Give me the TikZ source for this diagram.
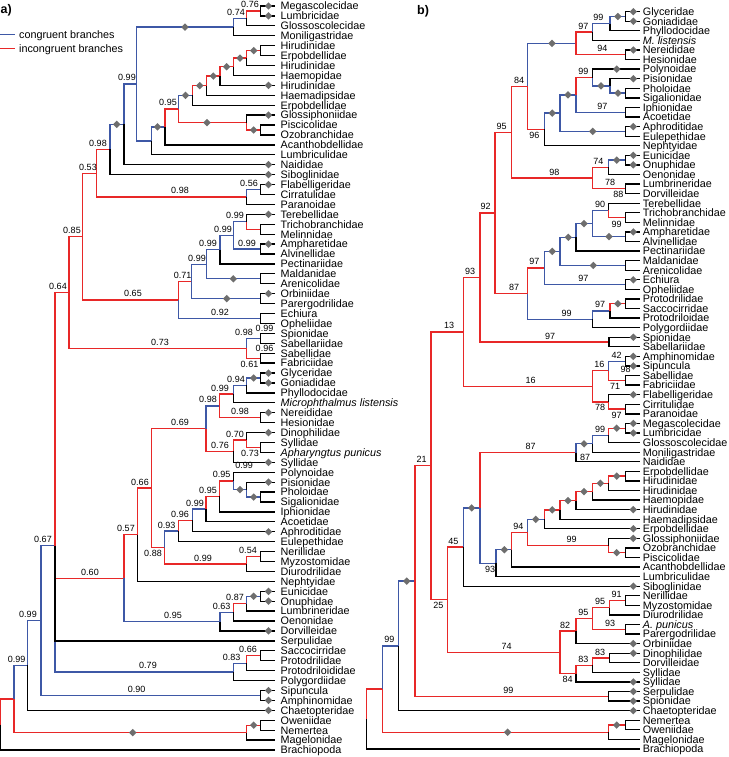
\documentclass[tikz,border=0pt]{standalone}
\usepackage{fontspec}
\setmainfont{Liberation Sans}
\usetikzlibrary{calc,shapes.geometric}
\definecolor{cblue}{RGB}{62,88,166}
\definecolor{cred}{RGB}{232,40,40}
\definecolor{cgray}{RGB}{110,110,110}
\newcounter{dmc}
\newcounter{lbc}
\newcommand\leaffont{\fontsize{10.8}{12}\selectfont}
\newcommand\Nd[4]{\path ($(#3)!.5!(#4)$) coordinate (tmp); \path (#2,0) coordinate (xx); \coordinate (#1) at (xx |- tmp);}
\newcommand\Ndq[6]{\path ($(#3)!.5!(#4)$) coordinate (tmpa); \path ($(#5)!.5!(#6)$) coordinate (tmpb); \path ($(tmpa)!.5!(tmpb)$) coordinate (tmp); \path (#2,0) coordinate (xx); \coordinate (#1) at (xx |- tmp);}
\newcommand\Br[3]{\draw[#1] (#2) |- (#3);}
\newcommand\Dm[2]{\stepcounter{dmc}\path (#1,0) coordinate (xx); \node[dmd] (dm\arabic{dmc}) at (xx |- #2) {};}
\newcommand\LabA[3]{\stepcounter{lbc}\path (#1,0) coordinate (xx); \coordinate (pp) at (xx |- #2); \node[lbl,anchor=base] (lb\arabic{lbc}) at ([yshift=3pt]pp) {#3};}
\newcommand\LabB[3]{\stepcounter{lbc}\path (#1,0) coordinate (xx); \coordinate (pp) at (xx |- #2); \node[lbl,anchor=base] (lb\arabic{lbc}) at ([yshift=-9pt]pp) {#3};}
\newcommand\LabF[3]{\stepcounter{lbc}\node[lbl] (lb\arabic{lbc}) at (#1,#2) {#3};}
\begin{document}
\begin{tikzpicture}[x=1pt,y=-1pt,line width=1.3pt,
  bl/.style={draw=cblue}, rd/.style={draw=cred}, bk/.style={draw=black},
  leaf/.style={anchor=base west,inner sep=0pt,font=\leaffont},
  lbl/.style={inner sep=0pt,font=\fontsize{9}{10}\selectfont},
  dmd/.style={diamond,fill=cgray,draw=none,inner sep=0pt,minimum width=8pt,minimum height=8pt}]
\useasboundingbox (0,0) rectangle (728,757);
% ---------- panel labels and legend
\node[anchor=west,inner sep=0pt,font=\bfseries\fontsize{12.5}{14}\selectfont] (pa) at (0,10.5) {a)};
\node[anchor=west,inner sep=0pt,font=\bfseries\fontsize{12.5}{14}\selectfont] (pb) at (416.5,11.5) {b)};
\coordinate (lg1a) at (0,34.3); \coordinate (lg1b) at (15,34.3);
\coordinate (lg2a) at (0,48.3); \coordinate (lg2b) at (15,48.3);
\draw[bl] (lg1a) -- (lg1b);
\draw[rd] (lg2a) -- (lg2b);
\node[leaf] (lgt1) at (18.5,38.15) {congruent branches};
\node[leaf] (lgt2) at (18.5,52.15) {incongruent branches};
% ---------- leaves tree a
\foreach \i/\t in {1/Megascolecidae,2/Lumbricidae,3/Glossoscolecidae,4/Moniligastridae,5/Hirudinidae,6/Erpobdellidae,7/Hirudinidae,8/Haemopidae,9/Hirudinidae,10/Haemadipsidae,11/Erpobdellidae,12/Glossiphoniidae,13/Piscicolidae,14/Ozobranchidae,15/Acanthobdellidae,16/Lumbriculidae,17/Naididae,18/Siboglinidae,19/Flabelligeridae,20/Cirratulidae,21/Paranoidae,22/Terebellidae,23/Trichobranchidae,24/Melinnidae,25/Ampharetidae,26/Alvinellidae,27/Pectinariidae,28/Maldanidae,29/Arenicolidae,30/Orbiniidae,31/Parergodrilidae,32/Echiura,33/Opheliidae,34/Spionidae,35/Sabellariidae,36/Sabellidae,37/Fabriciidae,38/Glyceridae,39/Goniadidae,40/Phyllodocidae,41/\textit{Microphthalmus listensis},42/Nereididae,43/Hesionidae,44/Dinophilidae,45/Syllidae,46/\textit{Apharyngtus punicus},47/Syllidae,48/Polynoidae,49/Pisionidae,50/Pholoidae,51/Sigalionidae,52/Iphionidae,53/Acoetidae,54/Aphroditidae,55/Eulepethidae,56/Nerillidae,57/Myzostomidae,58/Diurodrilidae,59/Nephtyidae,60/Eunicidae,61/Onuphidae,62/Lumbrineridae,63/Oenonidae,64/Dorvilleidae,65/Serpulidae,66/Saccocirridae,67/Protodrilidae,68/Protodriloididae,69/Polygordiidae,70/Sipuncula,71/Amphinomidae,72/Chaetopteridae,73/Oweniidae,74/Nemertea,75/Magelonidae,76/Brachiopoda}{
  \coordinate (a\i) at (275,{6+(\i-1)*9.92});
  \node[leaf] (ta\i) at (280,{6+(\i-1)*9.92+3.85}) {\t};
}
% ---------- leaves tree b
\foreach \i/\t in {1/Glyceridae,2/Goniadidae,3/Phyllodocidae,4/\textit{M. listensis},5/Nereididae,6/Hesionidae,7/Polynoidae,8/Pisionidae,9/Pholoidae,10/Sigalionidae,11/Iphionidae,12/Acoetidae,13/Aphroditidae,14/Eulepethidae,15/Nephtyidae,16/Eunicidae,17/Onuphidae,18/Oenonidae,19/Lumbrineridae,20/Dorvilleidae,21/Terebellidae,22/Trichobranchidae,23/Melinnidae,24/Ampharetidae,25/Alvinellidae,26/Pectinariidae,27/Maldanidae,28/Arenicolidae,29/Echiura,30/Opheliidae,31/Protodrilidae,32/Saccocirridae,33/Protodriloidae,34/Polygordiidae,35/Spionidae,36/Sabellariidae,37/Amphinomidae,38/Sipuncula,39/Sabellidae,40/Fabriciidae,41/Flabelligeridae,42/Cirritulidae,43/Paranoidae,44/Megascolecidae,45/Lumbricidae,46/Glossoscolecidae,47/Moniligastridae,48/Naididae,49/Erpobdellidae,50/Hirudinidae,51/Hirudinidae,52/Haemopidae,53/Hirudinidae,54/Haemadipsidae,55/Erpobdellidae,56/Glossiphoniidae,57/Ozobranchidae,58/Piscicolidae,59/Acanthobdellidae,60/Lumbriculidae,61/Siboglinidae,62/Nerillidae,63/Myzostomidae,64/Diurodrilidae,65/\textit{A. punicus},66/Parergodrilidae,67/Orbiniidae,68/Dinophilidae,69/Dorvilleidae,70/Syllidae,71/Syllidae,72/Serpulidae,73/Spionidae,74/Chaetopteridae,75/Nemertea,76/Oweniidae,77/Magelonidae,78/Brachiopoda}{
  \coordinate (b\i) at (640,{11.7+(\i-1)*9.575});
  \node[leaf] (tb\i) at (642.2,{11.7+(\i-1)*9.575+3.85}) {\t};
}
% ---------- internal nodes tree a
\Nd{xNmega}{260.7}{a1}{a2}
\Nd{xNglo}{246.7}{xNmega}{a3}
\Nd{xNmoni}{233.3}{xNglo}{a4}
\Nd{xL1}{260.7}{a5}{a6}
\Nd{xL2}{246.7}{xL1}{a7}
\Nd{xL3}{233.3}{xL2}{a8}
\Nd{xL4}{220}{xL3}{a9}
\Nd{xL5}{206.7}{xL4}{a10}
\Nd{xL6}{192.7}{xL5}{a11}
\Nd{xG1}{260.7}{a13}{a14}
\Nd{xG2}{246.7}{a12}{xG1}
\Nd{xH0}{178.3}{xL6}{xG2}
\Nd{xD}{165}{xH0}{a15}
\Nd{xC}{151.7}{xD}{a16}
\Nd{xB}{136.7}{xNmoni}{xC}
\Nd{xA}{124}{xB}{a17}
\Nd{xE}{110}{xA}{a18}
\Nd{xFc2}{260.7}{a19}{a20}
\Nd{xFc3}{246.7}{xFc2}{a21}
\Nd{xF}{96.7}{xE}{xFc3}
\Nd{xT1}{260.7}{a23}{a24}
\Nd{xT2}{246.7}{a22}{xT1}
\Nd{xT3}{260.7}{a25}{a26}
\Nd{xT4}{233.3}{xT2}{xT3}
\Nd{xT5}{220}{xT4}{a27}
\Nd{xT6}{260.7}{a28}{a29}
\Nd{xT7}{206.7}{xT5}{xT6}
\Nd{xT8}{260.7}{a30}{a31}
\Nd{xT9}{191.7}{xT7}{xT8}
\Nd{xT10}{260.7}{a32}{a33}
\Nd{xT11}{178.3}{xT9}{xT10}
\Nd{xG}{82.7}{xF}{xT11}
\Nd{xS1}{260.7}{a34}{a35}
\Nd{xS2}{260.7}{a36}{a37}
\Nd{xS3}{246.7}{xS1}{xS2}
\Nd{xH}{69}{xG}{xS3}
\Nd{xP1}{260.7}{a38}{a39}
\Nd{xP2}{246.7}{xP1}{a40}
\Nd{xP3}{233.3}{xP2}{a41}
\Nd{xP4}{260.7}{a42}{a43}
\Nd{xP5}{219.3}{xP3}{xP4}
\Nd{xQ1}{260.7}{a45}{a46}
\Nd{xQ2}{246.7}{a44}{xQ1}
\Nd{xQ3}{233.3}{xQ2}{a47}
\Nd{xP6}{206}{xP5}{xQ3}
\Nd{xR1}{260.7}{a50}{a51}
\Nd{xR2}{246.7}{a49}{xR1}
\Nd{xR3}{233.3}{a48}{xR2}
\Nd{xR4}{219.3}{xR3}{a52}
\Nd{xR5}{206}{xR4}{a53}
\Nd{xR6}{192.7}{xR5}{a54}
\Nd{xR7}{178.3}{xR6}{a55}
\Nd{xM1}{260.7}{a56}{a57}
\Nd{xM2}{246.7}{xM1}{a58}
\Nd{xR8}{164.3}{xR7}{xM2}
\Nd{xP7}{151.7}{xP6}{xR8}
\Nd{xP8}{137.7}{xP7}{a59}
\Nd{xE1}{260.7}{a60}{a61}
\Nd{xE2}{246.7}{xE1}{a62}
\Nd{xE3}{233.3}{xE2}{a63}
\Nd{xE4}{220}{xE3}{a64}
\Nd{xP9}{124}{xP8}{xE4}
\Nd{xV1}{260.7}{a66}{a67}
\Nd{xV2}{246.7}{xV1}{a68}
\Nd{xV3}{233.3}{xV2}{a69}
\Ndq{xI}{55}{xH}{xP9}{a65}{xV3}
\Nd{xSA}{260.7}{a70}{a71}
\Nd{xJ}{41}{xI}{xSA}
\Nd{xK}{27.7}{xJ}{a72}
\Nd{xO1}{260.7}{a73}{a74}
\Nd{xO2}{246.7}{xO1}{a75}
\Nd{xLr}{14}{xK}{xO2}
\Nd{xRa}{0.7}{xLr}{a76}
% ---------- branches tree a
\Br{rd}{xRa}{xLr} \Br{bk}{xRa}{a76}
\Br{bl}{xLr}{xK} \Br{rd}{xLr}{xO2}
\Br{rd}{xO2}{xO1} \Br{bk}{xO2}{a75}
\Br{bk}{xO1}{a73} \Br{bk}{xO1}{a74}
\Br{bl}{xK}{xJ} \Br{bk}{xK}{a72}
\Br{bl}{xJ}{xI} \Br{bl}{xJ}{xSA}
\Br{bk}{xSA}{a70} \Br{bk}{xSA}{a71}
\Br{rd}{xI}{xH} \Br{bl}{xI}{xV3} \Br{rd}{xI}{xP9} \Br{bk}{xI}{a65}
\Br{bl}{xV3}{xV2} \Br{bk}{xV3}{a69}
\Br{rd}{xV2}{xV1} \Br{bk}{xV2}{a68}
\Br{bk}{xV1}{a66} \Br{bk}{xV1}{a67}
\Br{rd}{xH}{xG} \Br{rd}{xH}{xS3}
\Br{bl}{xS3}{xS1} \Br{rd}{xS3}{xS2}
\Br{bk}{xS1}{a34} \Br{bk}{xS1}{a35} \Br{bk}{xS2}{a36} \Br{bk}{xS2}{a37}
\Br{rd}{xG}{xF} \Br{rd}{xG}{xT11}
\Br{rd}{xT11}{xT9} \Br{bl}{xT11}{xT10}
\Br{bk}{xT10}{a32} \Br{bk}{xT10}{a33}
\Br{bl}{xT9}{xT7} \Br{bl}{xT9}{xT8}
\Br{bk}{xT8}{a30} \Br{bk}{xT8}{a31}
\Br{bl}{xT7}{xT5} \Br{bl}{xT7}{xT6}
\Br{bk}{xT6}{a28} \Br{bk}{xT6}{a29}
\Br{bl}{xT5}{xT4} \Br{bk}{xT5}{a27}
\Br{bl}{xT4}{xT2} \Br{bl}{xT4}{xT3}
\Br{bk}{xT3}{a25} \Br{bk}{xT3}{a26}
\Br{bk}{xT2}{a22} \Br{rd}{xT2}{xT1}
\Br{bk}{xT1}{a23} \Br{bk}{xT1}{a24}
\Br{rd}{xF}{xE} \Br{rd}{xF}{xFc3}
\Br{bl}{xFc3}{xFc2} \Br{bk}{xFc3}{a21}
\Br{bk}{xFc2}{a19} \Br{bk}{xFc2}{a20}
\Br{bl}{xE}{xA} \Br{bk}{xE}{a18}
\Br{bl}{xA}{xB} \Br{bk}{xA}{a17}
\Br{bl}{xB}{xNmoni} \Br{bl}{xB}{xC}
\Br{bl}{xNmoni}{xNglo} \Br{bk}{xNmoni}{a4}
\Br{rd}{xNglo}{xNmega} \Br{bk}{xNglo}{a3}
\Br{bk}{xNmega}{a1} \Br{bk}{xNmega}{a2}
\Br{bl}{xC}{xD} \Br{bk}{xC}{a16}
\Br{rd}{xD}{xH0} \Br{bk}{xD}{a15}
\Br{bl}{xH0}{xL6} \Br{rd}{xH0}{xG2}
\Br{rd}{xG2}{xG1} \Br{bk}{xG2}{a12}
\Br{bk}{xG1}{a13} \Br{bk}{xG1}{a14}
\Br{rd}{xL6}{xL5} \Br{bk}{xL6}{a11}
\Br{rd}{xL5}{xL4} \Br{bk}{xL5}{a10}
\Br{rd}{xL4}{xL3} \Br{bk}{xL4}{a9}
\Br{rd}{xL3}{xL2} \Br{bk}{xL3}{a8}
\Br{rd}{xL2}{xL1} \Br{bk}{xL2}{a7}
\Br{bk}{xL1}{a5} \Br{bk}{xL1}{a6}
\Br{rd}{xP9}{xP8} \Br{bl}{xP9}{xE4}
\Br{bl}{xE4}{xE3} \Br{bk}{xE4}{a64}
\Br{rd}{xE3}{xE2} \Br{bk}{xE3}{a63}
\Br{bl}{xE2}{xE1} \Br{bk}{xE2}{a62}
\Br{bk}{xE1}{a60} \Br{bk}{xE1}{a61}
\Br{rd}{xP8}{xP7} \Br{bk}{xP8}{a59}
\Br{rd}{xP7}{xP6} \Br{rd}{xP7}{xR8}
\Br{bl}{xP6}{xP5} \Br{rd}{xP6}{xQ3}
\Br{rd}{xP5}{xP3} \Br{rd}{xP5}{xP4}
\Br{bk}{xP4}{a42} \Br{bk}{xP4}{a43}
\Br{bl}{xP3}{xP2} \Br{bk}{xP3}{a41}
\Br{bl}{xP2}{xP1} \Br{bk}{xP2}{a40}
\Br{bk}{xP1}{a38} \Br{bk}{xP1}{a39}
\Br{rd}{xQ3}{xQ2} \Br{bk}{xQ3}{a47}
\Br{bk}{xQ2}{a44} \Br{rd}{xQ2}{xQ1}
\Br{bk}{xQ1}{a45} \Br{bk}{xQ1}{a46}
\Br{bl}{xR8}{xR7} \Br{rd}{xR8}{xM2}
\Br{rd}{xM2}{xM1} \Br{bk}{xM2}{a58}
\Br{bk}{xM1}{a56} \Br{bk}{xM1}{a57}
\Br{rd}{xR7}{xR6} \Br{bk}{xR7}{a55}
\Br{bl}{xR6}{xR5} \Br{bk}{xR6}{a54}
\Br{rd}{xR5}{xR4} \Br{bk}{xR5}{a53}
\Br{rd}{xR4}{xR3} \Br{bk}{xR4}{a52}
\Br{bk}{xR3}{a48} \Br{bl}{xR3}{xR2}
\Br{bk}{xR2}{a49} \Br{bl}{xR2}{xR1}
\Br{bk}{xR1}{a50} \Br{bk}{xR1}{a51}
% ---------- diamonds tree a
\Dm{132.7}{xO2} \Dm{253.7}{xO1} \Dm{268.5}{a72} \Dm{268.5}{a70} \Dm{268.5}{a71}
\Dm{226.7}{xT8} \Dm{268.5}{a30} \Dm{233.3}{xT6} \Dm{268.5}{a25} \Dm{268.5}{a22}
\Dm{268.5}{a19} \Dm{116.7}{xA} \Dm{268.5}{a18} \Dm{268.5}{a17} \Dm{185}{xNmoni}
\Dm{268.5}{a1} \Dm{268.5}{a2} \Dm{157.5}{xD} \Dm{185.5}{xL6} \Dm{207}{xG2}
\Dm{253.7}{xG1} \Dm{268.5}{a12} \Dm{199.7}{xL5} \Dm{213.3}{xL4} \Dm{226.7}{xL3}
\Dm{268.5}{a9} \Dm{240}{xL2} \Dm{253.7}{xL1}
\Dm{268.5}{a64} \Dm{253.7}{xE1} \Dm{268.5}{a60} \Dm{268.5}{a61}
\Dm{268.5}{a42} \Dm{253.7}{xP1} \Dm{268.5}{a38} \Dm{268.5}{a39}
\Dm{268.5}{a47} \Dm{268.5}{a44} \Dm{268.5}{a54} \Dm{240}{xR2} \Dm{268.5}{a49} \Dm{253.7}{xR1}
% ---------- labels tree a
\LabA{16.7}{xK}{0.99} \LabA{28}{xJ}{0.99} \LabA{43}{xI}{0.67} \LabA{136.7}{xSA}{0.90}
\LabA{58}{xH}{0.64} \LabA{148}{xV3}{0.79} \LabA{90}{xP9}{0.60}
\LabA{231.7}{xV2}{0.83} \LabA{248}{xV1}{0.66}
\LabA{72}{xG}{0.85} \LabA{160}{xS3}{0.73} \LabA{244}{xS1}{0.98} \LabB{249.5}{xS2}{0.61}
\LabF{264.5}{328.3}{0.99} \LabF{264.5}{348.3}{0.96}
\LabA{88}{xF}{0.53} \LabA{133}{xT11}{0.65} \LabA{182.7}{xT9}{0.71} \LabA{220}{xT10}{0.92}
\LabA{197}{xT7}{0.99} \LabA{208}{xT5}{0.99} \LabA{223}{xT4}{0.99} \LabA{235}{xT2}{0.99} \LabA{247}{xT3}{0.99}
\LabA{98}{xE}{0.98} \LabA{180}{xFc3}{0.98} \LabA{249}{xFc2}{0.56}
\LabA{127}{xB}{0.99} \LabA{236}{xNglo}{0.74} \LabA{250}{xNmega}{0.76} \LabA{168}{xH0}{0.95}
\LabA{126}{xP8}{0.57} \LabA{173}{xE4}{0.95} \LabA{221.7}{xE3}{0.63} \LabA{235}{xE2}{0.87}
\LabA{140}{xP7}{0.66} \LabA{180}{xP6}{0.69} \LabB{153}{xR8}{0.88}
\LabA{208}{xP5}{0.98} \LabA{220}{xQ3}{0.76} \LabA{220}{xP3}{0.99} \LabA{240}{xP4}{0.98}
\LabA{236}{xP2}{0.94} \LabA{235}{xQ2}{0.70} \LabB{250}{xQ1}{0.73}
\LabA{166.7}{xR7}{0.93} \LabA{203}{xM2}{0.99} \LabA{248}{xM1}{0.54}
\LabA{180}{xR6}{0.96} \LabA{195}{xR5}{0.99} \LabA{208}{xR4}{0.95} \LabA{221.7}{xR3}{0.95}
\LabF{244.2}{465.3}{0.99}
% ---------- internal nodes tree b
\Nd{yB1}{625.7}{b1}{b2}
\Nd{yB2}{610}{yB1}{b3}
\Nd{yB3}{592.3}{yB2}{b4}
\Nd{yB5}{625.7}{b5}{b6}
\Nd{yB4}{576}{yB3}{yB5}
\Nd{yC1}{625.7}{b9}{b10}
\Nd{yC2}{610}{b8}{yC1}
\Nd{yC3}{592.3}{b7}{yC2}
\Nd{yC4}{625.7}{b11}{b12}
\Nd{yC5}{576}{yC3}{yC4}
\Nd{yC6}{625.7}{b13}{b14}
\Nd{yC7}{560}{yC5}{yC6}
\Nd{yC8}{544.3}{yC7}{b15}
\Nd{yB6}{527.7}{yB4}{yC8}
\Nd{yD1}{625.7}{b16}{b17}
\Nd{yD2}{608.3}{yD1}{b18}
\Nd{yD3}{625.7}{b19}{b20}
\Nd{yD4}{592.3}{yD2}{yD3}
\Nd{yB7}{511.7}{yB6}{yD4}
\Nd{yE1}{625.7}{b22}{b23}
\Nd{yE2}{608.3}{b21}{yE1}
\Nd{yE3}{625.7}{b24}{b25}
\Nd{yE4}{592.3}{yE2}{yE3}
\Nd{yE5}{576}{yE4}{b26}
\Nd{yE6}{625.7}{b27}{b28}
\Nd{yE7}{560}{yE5}{yE6}
\Nd{yE8}{625.7}{b29}{b30}
\Nd{yE9}{544.3}{yE7}{yE8}
\Nd{yF1}{625.7}{b31}{b32}
\Nd{yF2}{610}{yF1}{b33}
\Nd{yF3}{592.3}{yF2}{b34}
\Nd{yE10}{527.7}{yE9}{yF3}
\Nd{yB8}{495}{yB7}{yE10}
\Nd{yG1}{609}{b35}{b36}
\Nd{yB9}{480}{yB8}{yG1}
\Nd{yH1}{625.7}{b37}{b38}
\Nd{yS3}{625.7}{b39}{b40}
\Nd{yH2}{608.3}{yH1}{yS3}
\Nd{yH4}{625.7}{b42}{b43}
\Nd{yH3}{608.3}{b41}{yH4}
\Nd{yH5}{592.3}{yH2}{yH3}
\Nd{yB10}{463.3}{yB9}{yH5}
\Nd{yI1}{625.7}{b44}{b45}
\Nd{yI2}{608.3}{yI1}{b46}
\Nd{yI3}{592.3}{yI2}{b47}
\Nd{yI4}{576}{yI3}{b48}
\Nd{yJ1}{625.7}{b49}{b50}
\Nd{yJ2}{608.3}{yJ1}{b51}
\Nd{yJ3}{592.3}{yJ2}{b52}
\Nd{yJ4}{576}{yJ3}{b53}
\Nd{yJ5}{560}{yJ4}{b54}
\Nd{yJ6}{544.3}{yJ5}{b55}
\Nd{yK1}{625.7}{b57}{b58}
\Nd{yK2}{608.3}{b56}{yK1}
\Nd{yK3}{527.7}{yJ6}{yK2}
\Nd{yK4}{511.7}{yK3}{b59}
\Nd{yK5}{496}{yK4}{b60}
\Nd{yI5}{480}{yI4}{yK5}
\Nd{yI6}{463.3}{yI5}{b61}
\Nd{yM1}{625.7}{b62}{b63}
\Nd{yM2}{609.3}{yM1}{b64}
\Nd{yM3}{625.7}{b65}{b66}
\Nd{yM4}{592.3}{yM2}{yM3}
\Nd{yM5}{576}{yM4}{b67}
\Nd{yM6}{609.3}{b68}{b69}
\Nd{yM7}{592.3}{yM6}{b70}
\Nd{yM8}{576}{yM7}{b71}
\Nd{yM9}{560}{yM5}{yM8}
\Nd{yI7}{447.3}{yI6}{yM9}
\Nd{yB11}{431}{yB10}{yI7}
\Nd{yN1}{608.3}{b72}{b73}
\Nd{yB12}{415}{yB11}{yN1}
\Nd{yB13}{398.3}{yB12}{b74}
\Nd{yO1}{625.7}{b75}{b76}
\Nd{yO2}{608.3}{yO1}{b77}
\Nd{yB14}{382.7}{yB13}{yO2}
\Nd{yR}{366.7}{yB14}{b78}
% ---------- branches tree b
\Br{rd}{yR}{yB14} \Br{bk}{yR}{b78}
\Br{bl}{yB14}{yB13} \Br{rd}{yB14}{yO2}
\Br{rd}{yO2}{yO1} \Br{bk}{yO2}{b77}
\Br{bk}{yO1}{b75} \Br{bk}{yO1}{b76}
\Br{bl}{yB13}{yB12} \Br{bk}{yB13}{b74}
\Br{rd}{yB12}{yB11} \Br{rd}{yB12}{yN1}
\Br{bk}{yN1}{b72} \Br{bk}{yN1}{b73}
\Br{rd}{yB11}{yB10} \Br{rd}{yB11}{yI7}
\Br{rd}{yB10}{yB9} \Br{rd}{yB10}{yH5}
\Br{rd}{yB9}{yB8} \Br{rd}{yB9}{yG1}
\Br{bk}{yG1}{b35} \Br{bk}{yG1}{b36}
\Br{rd}{yB8}{yB7} \Br{rd}{yB8}{yE10}
\Br{rd}{yB7}{yB6} \Br{rd}{yB7}{yD4}
\Br{bl}{yB6}{yB4} \Br{rd}{yB6}{yC8}
\Br{rd}{yB4}{yB3} \Br{rd}{yB4}{yB5}
\Br{bk}{yB5}{b5} \Br{bk}{yB5}{b6}
\Br{bl}{yB3}{yB2} \Br{bk}{yB3}{b4}
\Br{bl}{yB2}{yB1} \Br{bk}{yB2}{b3}
\Br{bk}{yB1}{b1} \Br{bk}{yB1}{b2}
\Br{bl}{yC8}{yC7} \Br{bk}{yC8}{b15}
\Br{bl}{yC7}{yC5} \Br{bl}{yC7}{yC6}
\Br{bk}{yC6}{b13} \Br{bk}{yC6}{b14}
\Br{rd}{yC5}{yC3} \Br{bl}{yC5}{yC4}
\Br{bk}{yC4}{b11} \Br{bk}{yC4}{b12}
\Br{bk}{yC3}{b7} \Br{bl}{yC3}{yC2}
\Br{bk}{yC2}{b8} \Br{bl}{yC2}{yC1}
\Br{bk}{yC1}{b9} \Br{bk}{yC1}{b10}
\Br{rd}{yD4}{yD2} \Br{rd}{yD4}{yD3}
\Br{bk}{yD3}{b19} \Br{bk}{yD3}{b20}
\Br{bl}{yD2}{yD1} \Br{bk}{yD2}{b18}
\Br{bk}{yD1}{b16} \Br{bk}{yD1}{b17}
\Br{rd}{yE10}{yE9} \Br{bl}{yE10}{yF3}
\Br{bl}{yF3}{yF2} \Br{bk}{yF3}{b34}
\Br{rd}{yF2}{yF1} \Br{bk}{yF2}{b33}
\Br{bk}{yF1}{b31} \Br{bk}{yF1}{b32}
\Br{bl}{yE9}{yE7} \Br{bl}{yE9}{yE8}
\Br{bk}{yE8}{b29} \Br{bk}{yE8}{b30}
\Br{bl}{yE7}{yE5} \Br{bl}{yE7}{yE6}
\Br{bk}{yE6}{b27} \Br{bk}{yE6}{b28}
\Br{bl}{yE5}{yE4} \Br{bk}{yE5}{b26}
\Br{bl}{yE4}{yE2} \Br{bl}{yE4}{yE3}
\Br{bk}{yE3}{b24} \Br{bk}{yE3}{b25}
\Br{bk}{yE2}{b21} \Br{rd}{yE2}{yE1}
\Br{bk}{yE1}{b22} \Br{bk}{yE1}{b23}
\Br{rd}{yH5}{yH2} \Br{rd}{yH5}{yH3}
\Br{bl}{yH2}{yH1} \Br{rd}{yH2}{yS3}
\Br{bk}{yH1}{b37} \Br{bk}{yH1}{b38}
\Br{bk}{yS3}{b39} \Br{bk}{yS3}{b40}
\Br{bk}{yH3}{b41} \Br{rd}{yH3}{yH4}
\Br{bk}{yH4}{b42} \Br{bk}{yH4}{b43}
\Br{rd}{yI7}{yI6} \Br{rd}{yI7}{yM9}
\Br{bl}{yI6}{yI5} \Br{bk}{yI6}{b61}
\Br{rd}{yI5}{yI4} \Br{bl}{yI5}{yK5}
\Br{bl}{yI4}{yI3} \Br{bk}{yI4}{b48}
\Br{bl}{yI3}{yI2} \Br{bk}{yI3}{b47}
\Br{rd}{yI2}{yI1} \Br{bk}{yI2}{b46}
\Br{bk}{yI1}{b44} \Br{bk}{yI1}{b45}
\Br{bl}{yK5}{yK4} \Br{bk}{yK5}{b60}
\Br{rd}{yK4}{yK3} \Br{bk}{yK4}{b59}
\Br{bl}{yK3}{yJ6} \Br{rd}{yK3}{yK2}
\Br{bk}{yK2}{b56} \Br{rd}{yK2}{yK1}
\Br{bk}{yK1}{b57} \Br{bk}{yK1}{b58}
\Br{rd}{yJ6}{yJ5} \Br{bk}{yJ6}{b55}
\Br{rd}{yJ5}{yJ4} \Br{bk}{yJ5}{b54}
\Br{rd}{yJ4}{yJ3} \Br{bk}{yJ4}{b53}
\Br{rd}{yJ3}{yJ2} \Br{bk}{yJ3}{b52}
\Br{rd}{yJ2}{yJ1} \Br{bk}{yJ2}{b51}
\Br{bk}{yJ1}{b49} \Br{bk}{yJ1}{b50}
\Br{rd}{yM9}{yM5} \Br{rd}{yM9}{yM8}
\Br{rd}{yM5}{yM4} \Br{bk}{yM5}{b67}
\Br{rd}{yM4}{yM2} \Br{rd}{yM4}{yM3}
\Br{bk}{yM3}{b65} \Br{bk}{yM3}{b66}
\Br{rd}{yM2}{yM1} \Br{bk}{yM2}{b64}
\Br{bk}{yM1}{b62} \Br{bk}{yM1}{b63}
\Br{rd}{yM8}{yM7} \Br{bk}{yM8}{b71}
\Br{rd}{yM7}{yM6} \Br{bk}{yM7}{b70}
\Br{bk}{yM6}{b68} \Br{bk}{yM6}{b69}
% ---------- diamonds tree b
\Dm{507.7}{yO2} \Dm{616.7}{yO1} \Dm{406.7}{yB12} \Dm{633.3}{b74}
\Dm{633.3}{b72} \Dm{633.3}{b73} \Dm{633.3}{b35}
\Dm{552}{yB4} \Dm{633.3}{b5} \Dm{617.8}{yB1} \Dm{633.3}{b1} \Dm{633.3}{b2}
\Dm{552.3}{yC7} \Dm{568}{yC5} \Dm{592.8}{yC6} \Dm{633.3}{b13}
\Dm{616.7}{b7} \Dm{601}{yC2} \Dm{633.3}{b8} \Dm{618}{yC1}
\Dm{616.7}{yD1} \Dm{633.3}{b16} \Dm{633.3}{b17}
\Dm{617.8}{yF1} \Dm{552.3}{yE7} \Dm{633.3}{b29} \Dm{568.3}{yE5} \Dm{593.3}{yE6}
\Dm{584}{yE4} \Dm{609}{yE3} \Dm{633.3}{b24}
\Dm{633.3}{b37} \Dm{633.3}{b38} \Dm{633.3}{b41}
\Dm{471.7}{yI5} \Dm{633.3}{b61} \Dm{584}{yI3} \Dm{616.7}{yI1} \Dm{633.3}{b44} \Dm{633.3}{b45}
\Dm{504.3}{yK4} \Dm{535.7}{yJ6} \Dm{633.3}{b56} \Dm{616.7}{yK1}
\Dm{552.3}{yJ5} \Dm{633.3}{b55} \Dm{568}{yJ4} \Dm{584}{yJ3} \Dm{633.3}{b53} \Dm{600.3}{yJ2} \Dm{616.7}{yJ1}
\Dm{633.3}{b67} \Dm{633.3}{b71} \Dm{633.3}{b68}
% ---------- labels tree b
\LabA{389.3}{yB13}{99} \LabA{421.7}{yB11}{21} \LabA{508.3}{yN1}{99}
\LabA{449}{yB10}{13} \LabB{438.3}{yI7}{25}
\LabA{470}{yB9}{93} \LabA{530.7}{yH5}{16}
\LabA{485.7}{yB8}{92} \LabA{550}{yG1}{97}
\LabA{501.7}{yB7}{95} \LabA{514}{yE10}{87}
\LabA{519}{yB6}{84} \LabA{554.3}{yD4}{98} \LabB{534.3}{yC8}{96}
\LabA{583.3}{yB3}{97} \LabA{602.3}{yB5}{94} \LabA{598.3}{yB2}{99}
\LabA{583.3}{yC3}{99} \LabA{602.3}{yC4}{97}
\LabA{598.3}{yD2}{74} \LabA{610}{yD3}{78}
\LabA{534.3}{yE9}{97} \LabA{566.7}{yF3}{99} \LabA{600}{yF2}{97}
\LabA{583.3}{yE8}{97} \LabA{600}{yE2}{90}
\LabF{618.3}{194.3}{88} \LabF{616.7}{224}{99}
\LabA{599.3}{yH2}{16} \LabB{600}{yH3}{78} \LabA{616.7}{yH1}{42}
\LabB{615}{yS3}{71} \LabF{625.7}{369.3}{98} \LabB{616.7}{yH4}{97}
\LabA{453.3}{yI6}{45} \LabA{506.7}{yM9}{74}
\LabA{530.7}{yI4}{87} \LabB{490}{yK5}{93}
\LabF{585}{457}{87} \LabA{600}{yI2}{99}
\LabA{518.3}{yK3}{94} \LabA{571.7}{yK2}{99}
\LabA{565}{yM5}{82} \LabB{567.7}{yM8}{84}
\LabA{583.3}{yM4}{95} \LabA{600}{yM2}{95} \LabA{610}{yM3}{93} \LabA{616.7}{yM1}{91}
\LabA{583.3}{yM7}{83} \LabA{600}{yM6}{83}
\end{tikzpicture}
\end{document}
